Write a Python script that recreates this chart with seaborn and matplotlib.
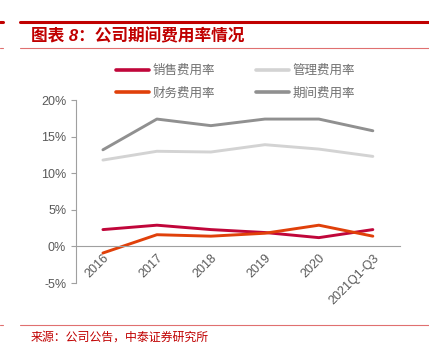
import matplotlib
matplotlib.use("Agg")
import matplotlib.pyplot as plt
import seaborn as sns
import pandas as pd
from matplotlib.lines import Line2D

# données (%)
annees = ['2016', '2017', '2018', '2019', '2020', '2021Q1-Q3']
series = ['销售费用率', '财务费用率', '管理费用率', '期间费用率']
xiaoshou = [2.3, 2.9, 2.3, 1.9, 1.2, 2.3]
caiwu = [-0.9, 1.6, 1.4, 1.8, 2.9, 1.4]
guanli = [11.8, 13.0, 12.9, 13.9, 13.3, 12.3]
qijian = [13.2, 17.4, 16.5, 17.4, 17.4, 15.8]
couleurs = ['#C0063A', '#E0400A', '#D3D3D3', '#909090']

df = pd.DataFrame({
    'annee': annees * 4,
    'serie': sum([[s] * len(annees) for s in series], []),
    'valeur': xiaoshou + caiwu + guanli + qijian,
})

sns.set_style("white")
plt.rcParams['font.family'] = ['Liberation Sans', 'Noto Sans CJK SC', 'DejaVu Sans']

fig = plt.figure(figsize=(4.29, 3.56), dpi=100)
ax = fig.add_axes([0.177, 0.205, 0.755, 0.514])

sns.lineplot(data=df, x='annee', y='valeur', hue='serie', hue_order=series,
             palette=couleurs, linewidth=2.1, sort=False, ax=ax)

ax.set_xlim(-0.5, 5.5)
ax.set_ylim(-5, 20)
ax.set_yticks([-5, 0, 5, 10, 15, 20])
ax.set_yticklabels([f"{v}%" for v in [-5, 0, 5, 10, 15, 20]])
ax.set_xlabel('')
ax.set_ylabel('')

gris = '#A0A0A0'
for s in ['top', 'right']:
    ax.spines[s].set_visible(False)
ax.spines['bottom'].set_position(('data', 0))
ax.spines['left'].set_color(gris)
ax.spines['bottom'].set_color(gris)
ax.spines['left'].set_linewidth(0.8)
ax.spines['bottom'].set_linewidth(0.8)

ax.set_xticks(range(len(annees)))
ax.set_xticklabels(annees, rotation=45, ha='right', rotation_mode='anchor')
ax.set_xticks([i - 0.5 for i in range(len(annees) + 1)], minor=True)
ax.tick_params(axis='x', which='major', length=0, pad=4, labelsize=9, labelcolor='#595959')
ax.tick_params(axis='x', which='minor', length=3.5, direction='out', color=gris, width=0.8)
ax.tick_params(axis='y', length=3.5, direction='out', color=gris, width=0.8,
               labelsize=9, labelcolor='#595959', left=True)

handles, labels = ax.get_legend_handles_labels()
for h in handles:
    h.set_linewidth(2.6)
ax.legend(handles, labels, ncol=2,
          frameon=False, loc='upper left', bbox_to_anchor=(0.245, 0.85),
          bbox_transform=fig.transFigure, fontsize=9, handlelength=2.6,
          columnspacing=3.3, labelspacing=0.85, handletextpad=0.3,
          labelcolor='#707070')

# titre et cadre rouge
rouge = '#C00000'
fig.add_artist(Line2D([20 / 429, 1], [1 - 22 / 356] * 2, color=rouge, lw=2.2))
fig.add_artist(Line2D([0, 3 / 429], [1 - 22 / 356] * 2, color=rouge, lw=2.2))
fig.add_artist(Line2D([20 / 429, 1], [1 - 48 / 356] * 2, color='#E07070', lw=0.8))
fig.add_artist(Line2D([0, 3 / 429], [1 - 48 / 356] * 2, color='#E07070', lw=0.8))
fig.add_artist(Line2D([20 / 429, 1], [1 - 325 / 356] * 2, color='#E07070', lw=0.8))
fig.add_artist(Line2D([0, 3 / 429], [1 - 325 / 356] * 2, color='#E07070', lw=0.8))
fig.text(31 / 429, 1 - 36 / 356, '图表 8：公司期间费用率情况', color=rouge,
         fontsize=12, fontweight='bold', style='italic', va='center', ha='left')
fig.text(31 / 429, 1 - 338 / 356, '来源：公司公告，中泰证券研究所', color=rouge,
         fontsize=8.6, va='center', ha='left')

fig.savefig('out.png', dpi=100)
